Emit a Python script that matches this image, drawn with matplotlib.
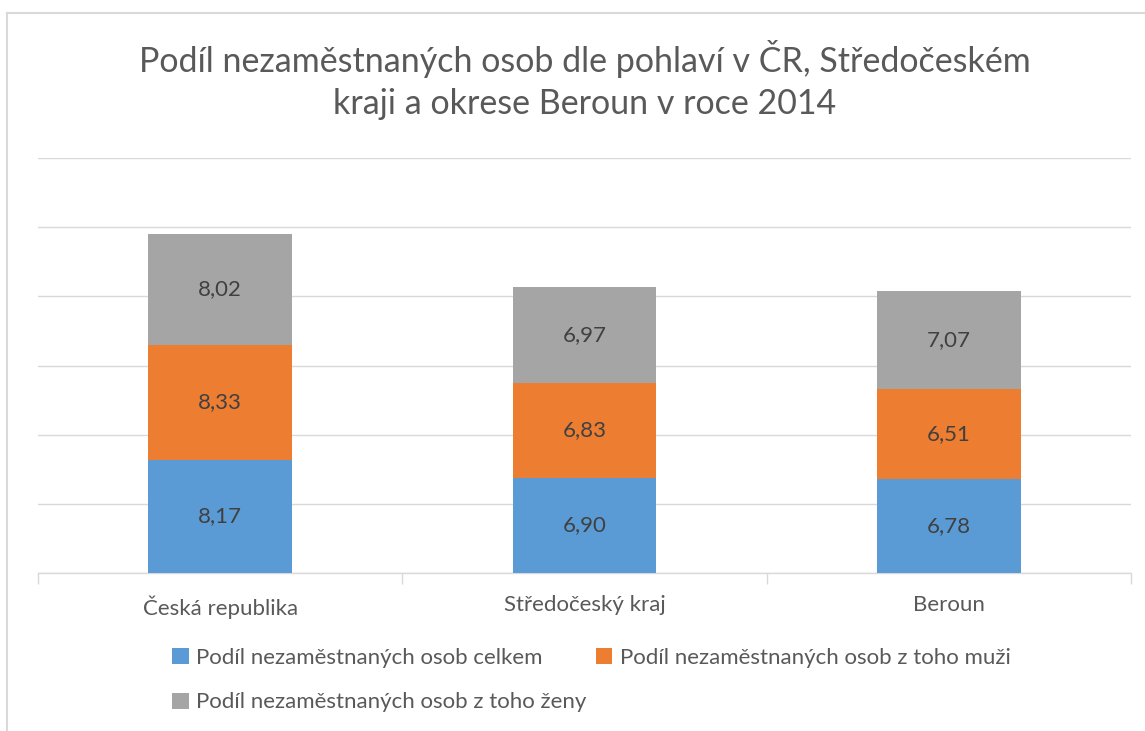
import matplotlib
matplotlib.use("Agg")
import matplotlib.pyplot as plt
from matplotlib.lines import Line2D
import numpy as np

plt.rcParams['font.family'] = ['Lato', 'DejaVu Sans']

categories = ['Česká republika', 'Středočeský kraj', 'Beroun']
celkem = [8.17, 6.90, 6.78]
muzi = [8.33, 6.83, 6.51]
zeny = [8.02, 6.97, 7.07]
series_names = ['Podíl nezaměstnaných osob celkem',
                'Podíl nezaměstnaných osob z toho muži',
                'Podíl nezaměstnaných osob z toho ženy']
colors = ['#5B9BD5', '#ED7D31', '#A5A5A5']

text_color = '#595959'
grid_color = '#D9D9D9'

fig = plt.figure(figsize=(11.45, 7.31), dpi=100)
ax = fig.add_axes([38 / 1145, 1 - 573 / 731, (1131 - 38) / 1145, (573 - 158) / 731])

x = np.arange(len(categories))
bottom = np.zeros(len(categories))
bars = []
for vals, name, col in zip([celkem, muzi, zeny], series_names, colors):
    b = ax.bar(x, vals, width=0.395, bottom=bottom, color=col, label=name, zorder=3)
    for xi, v, btm in zip(x, vals, bottom):
        ax.text(xi, btm + v / 2, f'{v:.2f}'.replace('.', ','), ha='center', va='center',
                fontsize=16, color='#404040', zorder=4)
    bottom += np.array(vals)
    bars.append(b)

ax.set_xlim(-0.5, len(categories) - 0.5)
ax.set_ylim(0, 30)
ax.set_yticks(np.arange(0, 31, 5))
ax.yaxis.grid(True, color=grid_color, linewidth=1, zorder=0)
ax.tick_params(axis='y', left=False, labelleft=False)

ax.set_xticks(np.arange(-0.5, len(categories), 1.0))
ax.set_xticklabels([])
ax.set_xticks(x, minor=True)
ax.set_xticklabels(categories, minor=True, fontsize=16, color=text_color)
ax.tick_params(axis='x', which='major', length=8, color=grid_color, width=1)
ax.tick_params(axis='x', which='minor', length=0, pad=16)

for s in ['top', 'right', 'left']:
    ax.spines[s].set_visible(False)
ax.spines['bottom'].set_color(grid_color)
ax.spines['bottom'].set_linewidth(1)

fig.suptitle('Podíl nezaměstnaných osob dle pohlaví v ČR, Středočeském\nkraji a okrese Beroun v roce 2014',
             x=585 / 1145, y=1 - 40 / 731, fontsize=24.5, color=text_color, linespacing=1.38, va='top')

# column-major fill: first column gets celkem + zeny, second muzi
order = [0, 2, 1]
leg = fig.legend(handles=[bars[i] for i in order], labels=[series_names[i] for i in order],
                 ncol=2, loc='upper left',
                 bbox_to_anchor=(172 / 1145, 1 - 648 / 731), frameon=False,
                 fontsize=16, handlelength=0.75, handleheight=0.75, handletextpad=0.35,
                 columnspacing=0.4, labelspacing=1.1, borderaxespad=0, borderpad=0)
for t in leg.get_texts():
    t.set_color(text_color)

# chart frame
fig.add_artist(Line2D([7 / 1145, 1], [1 - 13 / 731, 1 - 13 / 731], color='#D9D9D9', linewidth=1.5))
fig.add_artist(Line2D([7 / 1145, 7 / 1145], [0, 1 - 13 / 731], color='#D9D9D9', linewidth=1.5))

fig.savefig('out.png', dpi=100, facecolor='white')
